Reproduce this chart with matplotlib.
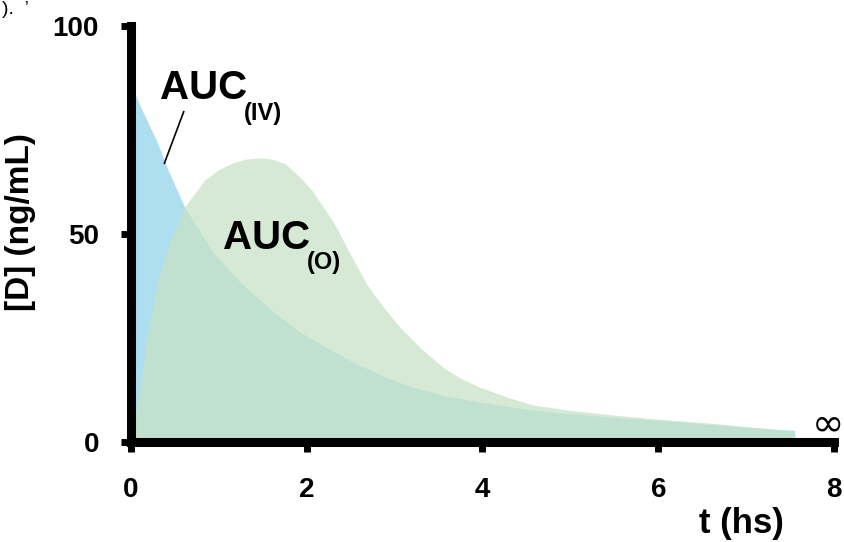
import numpy as np
import matplotlib.pyplot as plt

plt.rcParams['font.family'] = ['Liberation Sans', 'DejaVu Sans']
plt.rcParams['font.weight'] = 'bold'

# IV dose curve (t in hours, concentration in ng/mL)
t_iv = [0.0, 0.1, 0.2, 0.3, 0.42, 0.61, 0.92, 1.26, 1.64, 1.92, 2.2, 2.5,
        2.87, 3.2, 3.55, 3.97, 4.4, 4.77, 5.1, 5.7, 6.25, 6.8, 7.38, 7.55, 7.56]
c_iv = [86, 81, 76.5, 72, 65.5, 56.5, 46, 38, 31, 26.5, 23, 19.5,
        15.8, 13.2, 11.2, 9.6, 8.2, 7.2, 6.6, 5.6, 4.8, 3.9, 3.0, 2.8, 0]

# oral dose curve
t_o = [0.0, 0.04, 0.08, 0.19, 0.31, 0.42, 0.61, 0.84, 1.0, 1.15, 1.3, 1.45,
       1.6, 1.75, 1.92, 2.06, 2.3, 2.5, 2.68, 2.87, 3.06, 3.3, 3.55, 3.75,
       3.97, 4.25, 4.57, 5.0, 5.48, 6.0, 6.62, 7.1, 7.53, 7.56]
c_o = [0, 4, 10, 26, 39, 47, 56.5, 63, 65.5, 67, 68, 68.3,
       68, 67, 63.7, 60.5, 53, 45, 38, 32.5, 27.6, 22.5, 18, 15.3,
       13.2, 11, 8.9, 7.6, 6.5, 5.5, 4.5, 3.5, 2.6, 0]

xticks = [0, 2, 4, 6, 8]
yticks = [0, 50, 100]

fig = plt.figure(figsize=(8.45, 5.42), dpi=100)
ax = fig.add_axes([0.155, 0.1845, 0.832, 0.7675])

ax.fill_between(t_iv, c_iv, 0, color='#addff0', lw=0)
ax.fill_between(t_o, c_o, 0, color='#c7e2c6', alpha=0.75, lw=0)

ax.set_xlim(0, 8)
ax.set_ylim(0, 100)
ax.set_xticks(xticks)
ax.set_yticks(yticks)
ax.tick_params(axis='both', length=7, width=5, labelsize=20)
ax.tick_params(axis='x', pad=18)
ax.tick_params(axis='y', pad=16)
for lab in ax.get_xticklabels() + ax.get_yticklabels():
    lab.set_fontweight('bold')

for s in ['top', 'right']:
    ax.spines[s].set_visible(False)
for s in ['left', 'bottom']:
    ax.spines[s].set_linewidth(6.5)

fig.text(0.024, 0.59, '[D] (ng/mL)', fontsize=24, fontweight='bold',
         rotation=90, ha='center', va='center')
fig.text(0.878, 0.035, 't (hs)', fontsize=25, fontweight='bold', ha='center', va='center')

# labels for the areas
ax.text(0.33, 82.5, 'AUC', fontsize=29, fontweight='bold')
ax.text(1.28, 77.3, '(IV)', fontsize=17, fontweight='bold')
ax.text(1.05, 46.5, 'AUC', fontsize=29, fontweight='bold')
ax.text(2.0, 41.5, '(O)', fontsize=17, fontweight='bold')
ax.plot([0.6, 0.38], [79.4, 67], color='black', lw=1.2, clip_on=False)

ax.text(7.93, 4.2, '\u221e', fontsize=28, ha='center', va='center', clip_on=False,
        fontweight='normal', family=['DejaVu Sans'])

fig.text(0.002, 0.998, ').  \u2019', fontsize=14, fontweight='normal', va='top')

fig.savefig('out.png', dpi=100)
